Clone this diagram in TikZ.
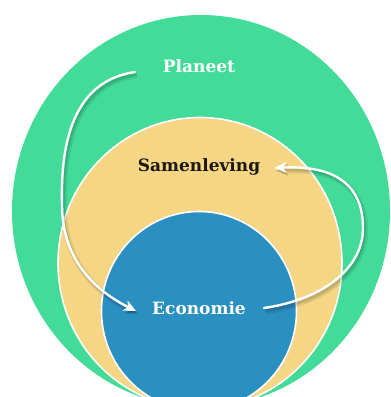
\documentclass[tikz,border=0pt]{standalone}
\usepackage{fontspec}
\setmainfont{DejaVu Serif}
\usetikzlibrary{arrows.meta,shapes.geometric}
\definecolor{planetgreen}{RGB}{66,219,152}
\definecolor{societyyellow}{RGB}{244,214,132}
\definecolor{economyblue}{RGB}{42,143,193}
\definecolor{inkdark}{RGB}{28,24,20}
\begin{document}
\begin{tikzpicture}[x=1pt,y=-1pt,
  sphere/.style={ellipse, inner sep=0pt, outer sep=0pt, draw=white, line width=1.6pt},
  tag/.style={font=\bfseries\fontsize{17}{20}\selectfont, inner sep=0pt},
  flowtip/.style={-{Stealth[length=12pt,width=11pt,inset=3pt]}},
  flow/.style={draw=white, line width=2.4pt, line cap=round, flowtip,
    preaction={draw=black, opacity=0.08, line width=6pt, flowtip,
      transform canvas={shift={(2,3)}}},
    preaction={draw=black, opacity=0.12, line width=3pt, flowtip,
      transform canvas={shift={(1.5,2.5)}}}}
]
\path[use as bounding box] (0,0) rectangle (391,397);
\clip (0,0) rectangle (391,397);
\fill[white] (0,0) rectangle (391,397);

% nested spheres
\node[sphere, fill=planetgreen, draw=none, minimum width=378pt, minimum height=392pt] (planet) at (201,211) {};
\node[sphere, fill=societyyellow, minimum width=284pt, minimum height=291pt] (society) at (200,263) {};
\node[sphere, fill=economyblue, minimum width=195pt, minimum height=199pt] (economy) at (199,311) {};

% labels
\node[tag, text=white] (planeetlabel) at (199,66) {Planeet};
\node[tag, text=inkdark] (samenlevinglabel) at (199,167) {Samenleving};
\node[tag, text=white] (economielabel) at (199,308) {Economie};

% flows
\coordinate (planetflow) at (135,72);
\draw[flow] (planetflow) .. controls (80,80) and (60,130) .. (62,205)
  .. controls (62,255) and (90,288) .. ([xshift=-16pt,yshift=-3pt]economielabel.west);
\draw[flow] ([xshift=18pt]economielabel.east) .. controls (320,300) and (363,270) .. (363,228)
  .. controls (363,185) and (335,165) .. ([xshift=14pt,yshift=-1pt]samenlevinglabel.east);
\end{tikzpicture}
\end{document}
